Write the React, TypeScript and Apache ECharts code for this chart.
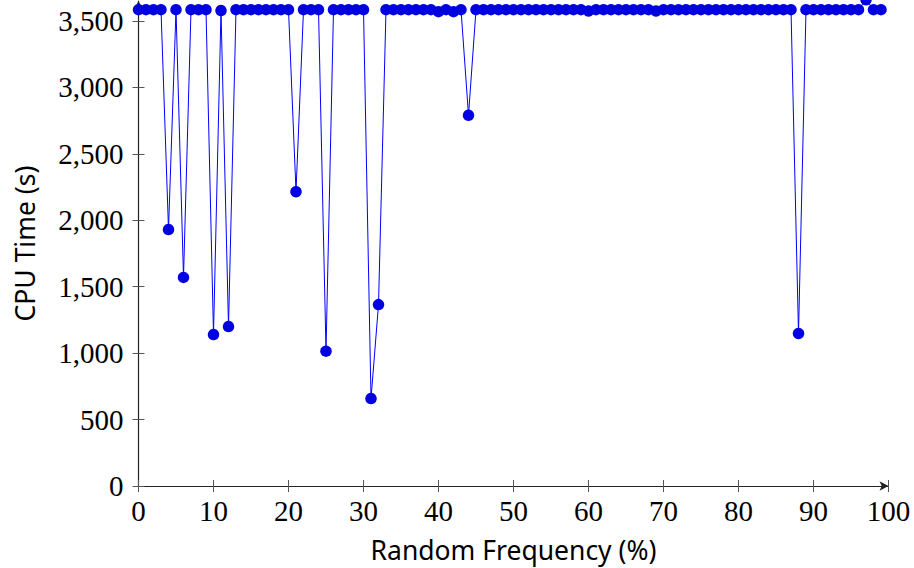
import React, { useEffect, useRef } from "react";
import * as echarts from "echarts";

const xTicks = [0, 10, 20, 30, 40, 50, 60, 70, 80, 90, 100];
const yTicks = [0, 500, 1000, 1500, 2000, 2500, 3000, 3500];

const frequency = [
  0, 1, 2, 3, 4, 5, 6, 7, 8, 9,
  10, 11, 12, 13, 14, 15, 16, 17, 18, 19,
  20, 21, 22, 23, 24, 25, 26, 27, 28, 29,
  30, 31, 32, 33, 34, 35, 36, 37, 38, 39,
  40, 41, 42, 43, 44, 45, 46, 47, 48, 49,
  50, 51, 52, 53, 54, 55, 56, 57, 58, 59,
  60, 61, 62, 63, 64, 65, 66, 67, 68, 69,
  70, 71, 72, 73, 74, 75, 76, 77, 78, 79,
  80, 81, 82, 83, 84, 85, 86, 87, 88, 89,
  90, 91, 92, 93, 94, 95, 96, 97, 98, 99,
];

const cpuTime = [
  3585, 3585, 3585, 3585, 1930, 3585, 1570, 3585, 3585, 3585,
  1140, 3578, 1200, 3585, 3585, 3585, 3585, 3585, 3585, 3585,
  3585, 2215, 3585, 3585, 3585, 1015, 3585, 3585, 3585, 3585,
  3585, 658, 1365, 3585, 3585, 3585, 3585, 3585, 3585, 3585,
  3570, 3585, 3570, 3585, 2790, 3585, 3585, 3585, 3585, 3585,
  3585, 3585, 3585, 3585, 3585, 3585, 3585, 3585, 3585, 3585,
  3575, 3585, 3585, 3585, 3585, 3585, 3585, 3585, 3585, 3575,
  3585, 3585, 3585, 3585, 3585, 3585, 3585, 3585, 3585, 3585,
  3585, 3585, 3585, 3585, 3585, 3585, 3585, 3585, 1148, 3585,
  3585, 3585, 3585, 3585, 3585, 3585, 3585, 3660, 3585, 3585,
];

const X_MIN = 0;
const X_MAX = 100;
const Y_MIN = 0;
const Y_MAX = 3650;

export default function App() {
  const ref = useRef<HTMLDivElement>(null);

  useEffect(() => {
    if (!ref.current) return;
    const chart = echarts.init(ref.current, null, { renderer: "svg" });
    const serif = "'Liberation Serif', 'DejaVu Serif', serif";
    const sans = "'Noto Sans', 'Open Sans', sans-serif";
    const tickColor = "#555";
    const axisColor = "#222";

    const fmt = (v: number) => v.toLocaleString("en-US");

    chart.setOption({
      animation: false,
      backgroundColor: "#fff",
      grid: { left: 138.5, right: 25.5, top: 1, bottom: 82, containLabel: false },
      xAxis: [
        {
          type: "value",
          min: X_MIN,
          max: X_MAX,
          interval: 10,
          position: "bottom",
          name: "Random Frequency (%)",
          nameLocation: "middle",
          nameGap: 50,
          nameTextStyle: { fontFamily: sans, fontSize: 26.5, color: "#000" },
          axisLine: {
            show: true,
            lineStyle: { color: axisColor, width: 1.2 },
            symbol: ["none", "arrow"],
            symbolSize: [7, 9],
            symbolOffset: [0, 0],
          },
          axisTick: {
            show: true,
            length: 6,
            inside: false,
            customValues: xTicks,
            lineStyle: { color: tickColor, width: 1 },
          },
          axisLabel: {
            show: true,
            customValues: xTicks,
            margin: 10,
            fontFamily: serif,
            fontSize: 29,
            color: "#000",
            formatter: (v: number) => String(v),
          },
          splitLine: { show: false },
        },
        {
          type: "value",
          min: X_MIN,
          max: X_MAX,
          interval: 10,
          position: "bottom",
          axisLine: { show: false },
          axisTick: {
            show: true,
            length: 6,
            inside: true,
            customValues: xTicks,
            lineStyle: { color: tickColor, width: 1 },
          },
          axisLabel: { show: false },
          splitLine: { show: false },
        },
      ],
      yAxis: [
        {
          type: "value",
          min: Y_MIN,
          max: Y_MAX,
          position: "left",
          name: "CPU Time (s)",
          nameLocation: "middle",
          nameGap: 100,
          nameTextStyle: { fontFamily: sans, fontSize: 26.5, color: "#000" },
          axisLine: {
            show: true,
            lineStyle: { color: axisColor, width: 1.2 },
            symbol: ["none", "arrow"],
            symbolSize: [7, 9],
          },
          axisTick: {
            show: true,
            length: 6,
            inside: false,
            customValues: yTicks,
            lineStyle: { color: tickColor, width: 1 },
          },
          axisLabel: {
            show: true,
            customValues: yTicks,
            margin: 15,
            fontFamily: serif,
            fontSize: 29,
            color: "#000",
            formatter: (v: number) => fmt(v),
          },
          splitLine: { show: false },
        },
        {
          type: "value",
          min: Y_MIN,
          max: Y_MAX,
          position: "left",
          axisLine: { show: false },
          axisTick: {
            show: true,
            length: 6,
            inside: true,
            customValues: yTicks,
            lineStyle: { color: tickColor, width: 1 },
          },
          axisLabel: { show: false },
          splitLine: { show: false },
        },
      ],
      series: [
        {
          type: "line",
          xAxisIndex: 0,
          yAxisIndex: 0,
          data: frequency.map((x, i) => [x, cpuTime[i]]),
          clip: false,
          symbol: "circle",
          symbolSize: 11.5,
          showSymbol: true,
          lineStyle: { color: "#0000ff", width: 1 },
          itemStyle: { color: "#0000e0", borderColor: "#0000e0", borderWidth: 0 },
          z: 5,
        },
      ],
    });

    return () => chart.dispose();
  }, []);

  return (
    <div
      ref={ref}
      style={{ position: "fixed", left: 0, top: 0, width: 914, height: 568, background: "#fff" }}
    />
  );
}
